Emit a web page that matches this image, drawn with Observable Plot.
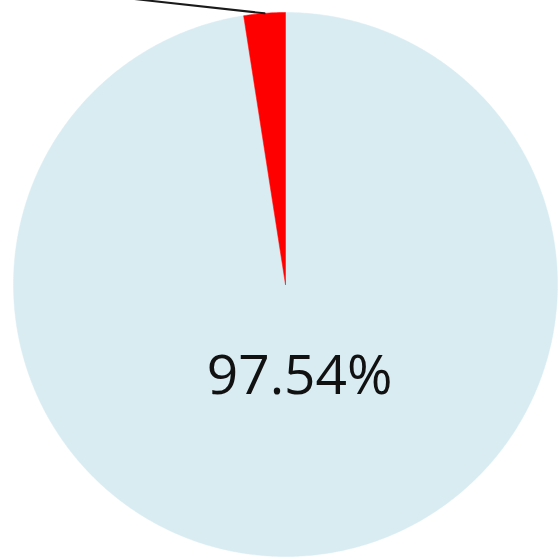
<!DOCTYPE html>
<html>
<head>
<meta charset="utf-8">
<script src="https://cdn.jsdelivr.net/npm/d3@7"></script>
<script src="https://cdn.jsdelivr.net/npm/@observablehq/plot@0.6"></script>
<style>
  html, body { margin: 0; padding: 0; background: #fff; }
</style>
</head>
<body>
<div id="chart"></div>
<script>
// Data
const categories = ["Main", "Other"];
const values = [97.54, 2.46];
const labels = ["97.54%", "2.46%"];
const colors = ["#d8ecf2", "#ff0000"];

// Build slice polygons (clockwise from 12 o'clock)
const pie = d3.pie().sort(null).value(d => d)(values);
const polyRows = [];
pie.forEach((p, i) => {
  const steps = Math.max(2, Math.ceil((p.endAngle - p.startAngle) / (Math.PI / 360)));
  polyRows.push({cat: categories[i], x: 0, y: 0});
  for (let k = 0; k <= steps; k++) {
    const a = p.startAngle + (p.endAngle - p.startAngle) * k / steps;
    polyRows.push({cat: categories[i], x: Math.sin(a), y: Math.cos(a)});
  }
  polyRows.push({cat: categories[i], x: 0, y: 0});
});

// Inside label for big slice
const big = pie[0];
const bigMid = (big.startAngle + big.endAngle) / 2;
const textRows = [{x: 0.34 * Math.sin(bigMid), y: 0.34 * Math.cos(bigMid), label: labels[0]}];

// Leader line for small slice (its label lies outside the visible area)
const small = pie[1];
const smallMid = (small.startAngle + small.endAngle) / 2;
const sx = Math.sin(smallMid), sy = Math.cos(smallMid);
const leader = [
  {x: sx, y: sy},
  {x: sx - 1.0, y: sy + 0.11}
];

const chart = Plot.plot({
  width: 560,
  height: 560,
  marginLeft: 13,
  marginRight: 3,
  marginTop: 12,
  marginBottom: 4,
  x: {domain: [-1, 1], axis: null},
  y: {domain: [-1, 1], axis: null},
  color: {domain: categories, range: colors},
  style: {background: "#fff"},
  marks: [
    Plot.line(polyRows, {x: "x", y: "y", z: "cat", fill: "cat", stroke: "cat", strokeWidth: 0.5, curve: "linear"}),
    Plot.line(leader, {x: "x", y: "y", stroke: "#1a1a1a", strokeWidth: 2, clip: false}),
    Plot.text(textRows, {x: "x", y: "y", text: "label", dx: 7, fontSize: 55, fontFamily: "Open Sans", fontWeight: 500, fill: "#111", textAnchor: "middle"})
  ]
});
document.getElementById("chart").appendChild(chart);
</script>
</body>
</html>
